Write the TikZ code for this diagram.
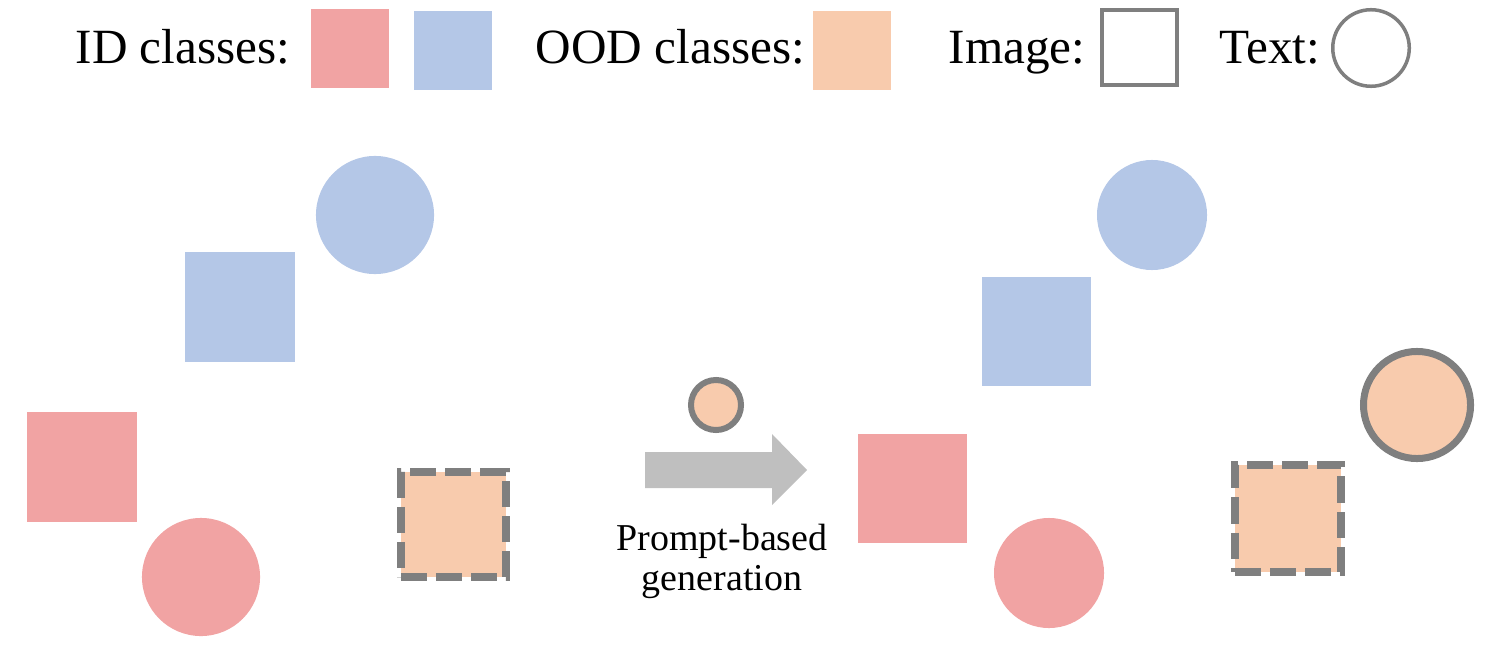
\documentclass[tikz,border=0pt]{standalone}
\usepackage{fontspec}
\setmainfont{Liberation Serif}
\definecolor{idred}{HTML}{F1A3A3}
\definecolor{idblue}{HTML}{B4C7E7}
\definecolor{oodorange}{HTML}{F8CBAD}
\definecolor{edgegray}{HTML}{7F7F7F}
\definecolor{arrowgray}{HTML}{BFBFBF}
\begin{document}
\begin{tikzpicture}[x=0.01cm, y=-0.01cm,
  lgtext/.style={anchor=base west, inner sep=0pt, font=\fontsize{14}{17}\selectfont},
  box/.style={rectangle, inner sep=0pt, outer sep=0pt, minimum size=#1},
  dot/.style={circle, inner sep=0pt, outer sep=0pt, minimum size=#1},
  imgframe/.style={draw=edgegray, line width=0.08cm, dash pattern=on 0.26cm off 0.09cm},
  txtring/.style={draw=edgegray, line width=#1}]
\useasboundingbox (0,0) rectangle (1495,664);
\node[lgtext] (lgid) at (75,63.5) {ID classes:};
\node[box=0.78cm, fill=idred] (legred) at (350,48.5) {};
\node[box=0.78cm, fill=idblue] (legblue) at (453,50.5) {};
\node[lgtext] (lgood) at (535,63.5) {OOD classes:};
\node[box=0.78cm, fill=oodorange] (legood) at (852,50.5) {};
\node[lgtext] (lgimg) at (948,63.5) {Image:};
\node[box=0.75cm, draw=edgegray, line width=0.04cm] (legimg) at (1139,47.5) {};
\node[lgtext] (lgtxt) at (1219,63.5) {Text:};
\node[dot=0.765cm, txtring=0.035cm] (legtxt) at (1371,48) {};
\node[dot=1.18cm, fill=idblue] (lbluetxt) at (375,215) {};
\node[box=1.10cm, fill=idblue] (lblueimg) at (240,307) {};
\node[box=1.10cm, fill=idred] (lredimg) at (82,467) {};
\node[dot=1.18cm, fill=idred] (lredtxt) at (201,577) {};
\node[box=1.05cm, fill=oodorange, imgframe] (loodimg) at (453.5,524.5) {};
\node[dot=0.50cm, fill=oodorange, txtring=0.06cm] (prompt) at (716,405) {};
\coordinate (arr) at (645,470);
\fill[arrowgray] (arr) ++(0,-18) -- ++(127,0) -- ++(0,-18) -- ++(35,36) -- ++(-35,35) -- ++(0,-17) -- ++(-127,0) -- cycle;
\node[anchor=north, align=center, inner sep=0pt, font=\fontsize{10.8}{11.4}\selectfont] (genlbl) at (722,523) {Prompt-based\\generation};
\node[dot=1.10cm, fill=idblue] (rbluetxt) at (1152,215) {};
\node[box=1.09cm, fill=idblue] (rblueimg) at (1036.5,331.5) {};
\node[box=1.09cm, fill=idred] (rredimg) at (912.5,488.5) {};
\node[dot=1.10cm, fill=idred] (rredtxt) at (1049,573) {};
\node[dot=1.07cm, fill=oodorange, txtring=0.07cm] (roodtxt) at (1417,405) {};
\node[box=1.06cm, fill=oodorange, imgframe] (roodimg) at (1288,518.5) {};
\end{tikzpicture}
\end{document}
